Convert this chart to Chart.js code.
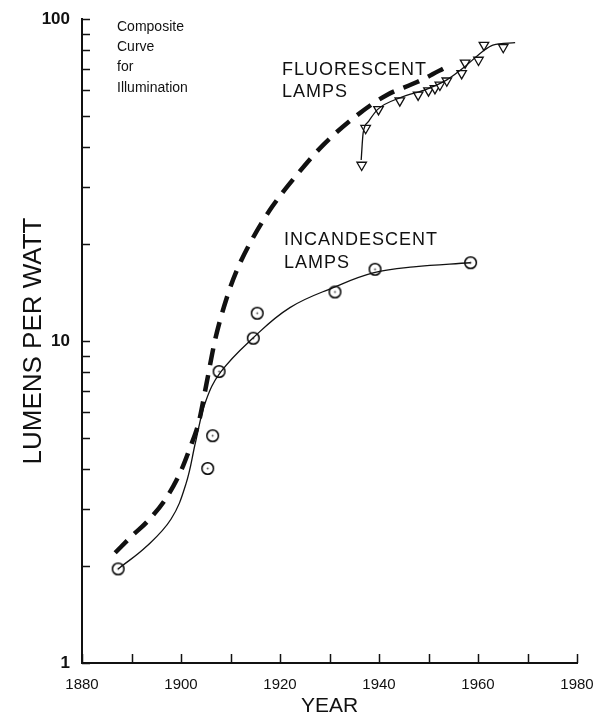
<!DOCTYPE html>
<html><head><meta charset="utf-8">
<script src="https://cdn.jsdelivr.net/npm/chart.js@4/dist/chart.umd.min.js"></script>
<style>html,body{margin:0;padding:0;background:#fff}#wrap{width:603px;height:715px;position:relative}</style>
</head><body><div id="wrap"><canvas id="c" width="603" height="715"></canvas></div>
<script>
// ---- data ----
const incYears  = [1887.3, 1905.4, 1906.4, 1907.7, 1914.6, 1915.4, 1931.1, 1939.2, 1958.5];
const incValues = [1.96, 4.02, 5.08, 8.04, 10.2, 12.2, 14.2, 16.7, 17.5];

const incCurveYears  = [1887.3, 1893.0, 1898.0, 1901.0, 1903.0, 1905.0, 1908.0, 1914.5, 1922.0, 1931.0, 1939.0, 1947.0, 1958.5];
const incCurveValues = [1.96, 2.3, 2.8, 3.6, 4.9, 6.5, 8.0, 10.2, 12.7, 14.7, 16.3, 17.0, 17.5];

const fluYears  = [1936.5, 1937.3, 1939.9, 1944.2, 1947.9, 1950.0, 1951.3, 1952.3, 1953.7, 1956.7, 1957.4, 1960.1, 1961.2, 1965.1];
const fluValues = [35.2, 45.8, 52.4, 55.8, 58.1, 59.9, 60.9, 62.4, 64.3, 67.8, 73.1, 74.6, 83.0, 81.7];

const fluCurveYears  = [1936.4, 1936.8, 1937.8, 1939.8, 1944.2, 1949.7, 1953.7, 1957.0, 1960.8, 1963.0, 1967.5];
const fluCurveValues = [36.5, 44.3, 47.9, 52.5, 56.9, 60.6, 64.7, 70.4, 79.0, 83.0, 84.4];

const compYears  = [1886.7, 1890.3, 1893.1, 1897.0, 1899.8, 1901.8, 1903.6, 1905.1, 1906.9, 1909.3, 1911.3, 1914.3, 1918.4, 1923.4, 1928.7, 1935.6, 1941.6, 1947.7, 1954.3];
const compValues = [2.20, 2.50, 2.74, 3.25, 3.89, 4.65, 5.60, 7.30, 10.1, 13.7, 16.6, 20.6, 26.1, 32.8, 40.6, 50.3, 58.1, 63.7, 71.9];

const xTickYears  = [1880, 1890, 1900, 1910, 1920, 1930, 1940, 1950, 1960, 1970, 1980];
const xLabelYears = [1880, 1900, 1920, 1940, 1960, 1980];
const yTickValues = [1, 2, 3, 4, 5, 6, 7, 8, 9, 10, 20, 30, 40, 50, 60, 70, 80, 90, 100];
const yLabelValues = [1, 10, 100];

const noteComposite = ["Composite", "Curve", "for", "Illumination"];
const noteFluor = ["FLUORESCENT", "LAMPS"];
const noteInc = ["INCANDESCENT", "LAMPS"];

// ---- helpers ----
const pts = (xs, ys) => xs.map((x, i) => ({x, y: ys[i]}));
const FONT = "'Liberation Sans', Arial, Helvetica, sans-serif";
const INK = '#111';

// circle with center dot marker
const dotCircle = (() => {
  const c = document.createElement('canvas');
  c.width = 15; c.height = 15;
  const g = c.getContext('2d');
  g.fillStyle = '#fff'; g.strokeStyle = '#000'; g.lineWidth = 1.5;
  g.beginPath(); g.arc(7.5, 7.5, 5.8, 0, Math.PI * 2); g.fill(); g.stroke();
  g.fillStyle = '#444';
  g.beginPath(); g.arc(7.5, 7.5, 0.9, 0, Math.PI * 2); g.fill();
  return c;
})();

const inTicks = {
  id: 'inTicks',
  afterDatasetsDraw(chart) {
    const {ctx, chartArea: a, scales: {x, y}} = chart;
    ctx.save();
    ctx.strokeStyle = INK; ctx.lineWidth = 1.5;
    ctx.beginPath();
    xTickYears.forEach(v => {
      const px = Math.round(x.getPixelForValue(v)) + 0.5;
      ctx.moveTo(px, a.bottom); ctx.lineTo(px, a.bottom - 9);
    });
    yTickValues.forEach(v => {
      const py = Math.round(y.getPixelForValue(v)) + 0.5;
      ctx.moveTo(a.left, py); ctx.lineTo(a.left + 8, py);
    });
    ctx.stroke();
    // annotations
    ctx.fillStyle = INK;
    ctx.textBaseline = 'middle';
    ctx.textAlign = 'left';
    ctx.font = '14px ' + FONT;
    noteComposite.forEach((t, i) => ctx.fillText(t, a.left + 35, 27 + i * 20.3));
    ctx.font = '18px ' + FONT;
    ctx.letterSpacing = '1px';
    noteFluor.forEach((t, i) => ctx.fillText(t, x.getPixelForValue(1920.4), y.getPixelForValue(69.5) + i * 22));
    noteInc.forEach((t, i) => ctx.fillText(t, x.getPixelForValue(1920.8), y.getPixelForValue(20.6) + i * 23));
    ctx.restore();
  }
};

new Chart(document.getElementById('c'), {
  type: 'line',
  data: {
    datasets: [
      {label: 'Incandescent curve', data: pts(incCurveYears, incCurveValues), borderColor: INK, borderWidth: 1.3,
       pointRadius: 0, tension: 0.4, fill: false},
      {label: 'Incandescent', data: pts(incYears, incValues), showLine: false, pointStyle: dotCircle, pointRadius: 7},
      {label: 'Fluorescent curve', data: pts(fluCurveYears, fluCurveValues), borderColor: INK, borderWidth: 1.3,
       pointRadius: 0, cubicInterpolationMode: 'monotone', fill: false},
      {label: 'Fluorescent', data: pts(fluYears, fluValues), showLine: false, pointStyle: 'triangle', rotation: 180,
       pointRadius: 5.5, pointBackgroundColor: '#fff', pointBorderColor: INK, pointBorderWidth: 1.3},
      {label: 'Composite', data: pts(compYears, compValues), borderColor: INK, borderWidth: 4.5, borderDash: [17, 10],
       borderCapStyle: 'butt', pointRadius: 0, cubicInterpolationMode: 'monotone', fill: false}
    ]
  },
  options: {
    responsive: false,
    animation: false,
    devicePixelRatio: 1,
    layout: {padding: {left: 0, right: 26, top: 19, bottom: 0}},
    plugins: {legend: {display: false}, tooltip: {enabled: false}},
    scales: {
      x: {
        type: 'linear', min: 1880, max: 1980,
        afterFit: s => { s.height = 52; },
        afterBuildTicks: s => { s.ticks = xTickYears.map(v => ({value: v})); },
        grid: {display: false},
        border: {display: true, color: INK, width: 2},
        ticks: {
          autoSkip: false, maxRotation: 0, padding: 5, color: INK,
          font: {family: FONT, size: 15},
          callback: v => xLabelYears.includes(v) ? String(v) : ''
        },
        title: {display: true, text: 'YEAR', color: INK, font: {family: FONT, size: 21, lineHeight: 0.8}, padding: {top: 0, bottom: 0}}
      },
      y: {
        type: 'logarithmic', min: 1, max: 100,
        afterFit: s => { s.width = 82; },
        afterBuildTicks: s => { s.ticks = yTickValues.map(v => ({value: v})); },
        grid: {display: false},
        border: {display: true, color: INK, width: 2},
        ticks: {
          autoSkip: false, padding: 4, color: INK,
          font: {family: FONT, size: 17, weight: 'bold'},
          callback: v => yLabelValues.includes(v) ? String(v) : ''
        },
        title: {display: true, text: 'LUMENS PER WATT', color: INK, font: {family: FONT, size: 26}, padding: {top: 18, bottom: 0}}
      }
    }
  },
  plugins: [inTicks]
});
</script>
</body></html>
